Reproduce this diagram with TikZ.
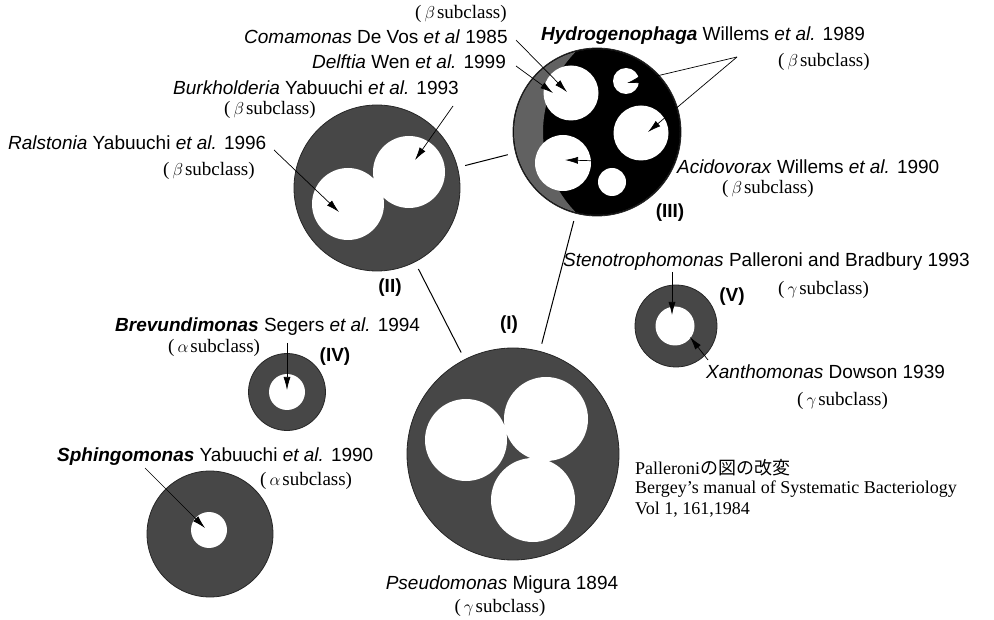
\documentclass[tikz,border=0pt]{standalone}
\usepackage{fontspec}
\setmainfont{Liberation Serif}
\setsansfont{Liberation Sans}
\newfontfamily\jpfont{Noto Sans CJK JP}
\usetikzlibrary{arrows.meta}

\colorlet{ringgray}{black!72}
\colorlet{crescgray}{black!62}

\newcommand{\gen}[1]{\textit{#1}}
\newcommand{\bgen}[1]{\textbf{\textit{#1}}}
\newcommand{\subcl}[1]{(\hspace{3pt}$#1$\hspace{2pt}subclass)}

\begin{document}
\begin{tikzpicture}[
    x=1pt, y=-1pt,
    >={Latex[length=13pt,width=7pt]},
    ring/.style={circle, inner sep=0pt, outer sep=0pt, fill=ringgray, draw=black!85, line width=0.8pt},
    hole/.style={fill=white},
    lbl/.style={anchor=west, inner sep=0pt, font=\sffamily\fontsize{19}{21}\selectfont},
    sub/.style={anchor=west, inner sep=0pt, font=\fontsize{19}{21}\selectfont},
    note/.style={anchor=west, inner sep=0pt, font=\fontsize{18}{20}\selectfont},
    num/.style={inner sep=0pt, font=\sffamily\bfseries\fontsize{19}{21}\selectfont},
    ptr/.style={->, line width=0.7pt},
    link/.style={line width=1pt, shorten >=8pt, shorten <=8pt}
  ]

    \useasboundingbox (0,0) rectangle (994,620);

    % Groups (circles) ---------------------------------------------
    \node[ring, minimum size=212] (I)   at (513,454) {};
    \node[ring, minimum size=166] (II)  at (377,188) {};
    \node[ring, minimum size=168, fill=black] (III) at (597,132) {};
    \node[ring, minimum size=77]  (IV)  at (287,392) {};
    \node[ring, minimum size=82]  (V)   at (676,326) {};
    \node[ring, minimum size=126] (sph) at (210,534) {};

    % darker grey crescent on the left of (III)
    \begin{scope}
      \clip (597,132) circle (83pt);
      \fill[crescgray, even odd rule] (597,132) circle (83pt) (658,132) circle (115pt);
    \end{scope}

    % White holes
    \fill[hole] (466,440) circle (41pt) (546,419) circle (42pt) (533,500) circle (42pt);
    \fill[hole] (409,172) circle (36pt) (348,204) circle (36pt);
    \fill[hole] (571,93) circle (27.5pt) (626,81) circle (13pt) (641,133) circle (27.5pt)
                (563,163) circle (28pt) (612,182) circle (14pt);
    \fill[hole] (287,392) circle (18pt);
    \fill[hole] (675,326) circle (19.5pt);
    \fill[hole] (209,530) circle (18pt);

    % Links between groups -----------------------------------------
    \draw[link] (II) -- (III);
    \draw[link] (II) -- (I);
    \draw[link] (III) -- (I);

    % Labels -------------------------------------------------------
    \node[sub] (subcoma) at (415,14) {\subcl{\beta}};
    \node[lbl] (coma) at (244,37) {\gen{Comamonas} De Vos \gen{et al} 1985};
    \node[lbl] (delf) at (312,62) {\gen{Delftia} Wen \gen{et al.} 1999};
    \node[lbl] (burk) at (173,88) {\gen{Burkholderia} Yabuuchi \gen{et al.} 1993};
    \node[sub] (subburk) at (224,110) {\subcl{\beta}};
    \node[lbl] (rals) at (8,143) {\gen{Ralstonia} Yabuuchi \gen{et al.} 1996};
    \node[sub] (subrals) at (163,171) {\subcl{\beta}};

    \node[lbl] (hydro) at (541,36) {\bgen{Hydrogenophaga} Willems \gen{et al.} 1989};
    \node[sub] (subhydro) at (778,62) {\subcl{\beta}};
    \node[lbl] (acido) at (677,167) {\gen{Acidovorax} Willems \gen{et al.} 1990};
    \node[sub] (subacido) at (722,189) {\subcl{\beta}};

    \node[lbl] (steno) at (563,262) {\gen{Stenotrophomonas} Palleroni and Bradbury 1993};
    \node[sub] (substeno) at (778,290) {\subcl{\gamma}};
    \node[lbl] (xanth) at (706,372) {\gen{Xanthomonas} Dowson 1939};
    \node[sub] (subxanth) at (797,401) {\subcl{\gamma}};

    \node[lbl] (brev) at (115,327) {\bgen{Brevundimonas} Segers \gen{et al.} 1994};
    \node[sub] (subbrev) at (168,348) {\subcl{\alpha}};
    \node[lbl] (sphingo) at (57,457) {\bgen{Sphingomonas} Yabuuchi \gen{et al.} 1990};
    \node[sub] (subsphingo) at (260,481) {\subcl{\alpha}};

    \node[lbl, anchor=center] (pseudo) at (502,585) {\gen{Pseudomonas} Migura 1894};
    \node[sub, anchor=center] (subpseudo) at (500,608) {\subcl{\gamma}};

    \node[num] (labI)   at (509,325) {(I)};
    \node[num] (labII)  at (390,288) {(II)};
    \node[num] (labIII) at (670,213) {(III)};
    \node[num] (labIV)  at (335,357) {(IV)};
    \node[num] (labV)   at (732,297) {(V)};

    % Source note
    \node[note] (src1) at (635,468) {Palleroni{\jpfont の図の改変}};
    \node[note] (src2) at (635,489) {Bergey’s manual of Systematic Bacteriology};
    \node[note] (src3) at (635,510) {Vol 1, 161,1984};

    % Pointers -----------------------------------------------------
    \coordinate (comaS) at (516,40);   \coordinate (comaT) at (567,92);
    \coordinate (delfS) at (516,66);   \coordinate (delfT) at (553,93);
    \coordinate (hydroS) at (737,57);
    \coordinate (hydroT1) at (627,83); \coordinate (hydroT2) at (648,132);
    \coordinate (acidoS) at (675,163); \coordinate (acidoT) at (565,160);
    \coordinate (burkS) at (453,106);  \coordinate (burkT) at (415,160);
    \coordinate (ralsS) at (274,150);  \coordinate (ralsT) at (339,212);
    \coordinate (brevS) at (287,343);  \coordinate (brevT) at (287,390);
    \coordinate (sphS) at (145,468);   \coordinate (sphT) at (205,528);
    \coordinate (stenoS) at (672,272); \coordinate (stenoT) at (672,315);
    \coordinate (xanthS) at (708,360); \coordinate (xanthT) at (690,337);

    \draw[ptr] (comaS) -- (comaT);
    \draw[ptr] (delfS) -- (delfT);
    \draw[ptr] (hydroS) -- (hydroT1);
    \draw[ptr] (hydroS) -- (hydroT2);
    \draw[ptr] (acidoS) -- (acidoT);
    \draw[ptr] (burkS) -- (burkT);
    \draw[ptr] (ralsS) -- (ralsT);
    \draw[ptr] (brevS) -- (brevT);
    \draw[ptr] (sphS) -- (sphT);
    \draw[ptr] (stenoS) -- (stenoT);
    \draw[ptr] (xanthS) -- (xanthT);

  \end{tikzpicture}
\end{document}
